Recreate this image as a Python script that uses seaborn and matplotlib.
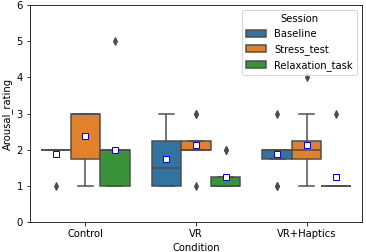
import pandas as pd
import matplotlib.pyplot as plt
import seaborn as sns

conditions = ['Control', 'VR', 'VR+Haptics']
sessions = ['Baseline', 'Stress_test', 'Relaxation_task']

# arousal ratings per condition / session (8 participants each)
control_baseline = [1, 2, 2, 2, 2, 2, 2, 2]
control_stress = [1, 1, 2, 3, 3, 3, 3, 3]
control_relax = [1, 1, 1, 2, 2, 2, 2, 5]
vr_baseline = [1, 1, 1, 1, 2, 2, 3, 3]
vr_stress = [1, 2, 2, 2, 2, 2, 3, 3]
vr_relax = [1, 1, 1, 1, 1, 1, 2, 2]
vrh_baseline = [1, 1, 2, 2, 2, 2, 2, 3]
vrh_stress = [1, 1, 2, 2, 2, 2, 3, 4]
vrh_relax = [1, 1, 1, 1, 1, 1, 1, 3]

groups = {
    ('Control', 'Baseline'): control_baseline,
    ('Control', 'Stress_test'): control_stress,
    ('Control', 'Relaxation_task'): control_relax,
    ('VR', 'Baseline'): vr_baseline,
    ('VR', 'Stress_test'): vr_stress,
    ('VR', 'Relaxation_task'): vr_relax,
    ('VR+Haptics', 'Baseline'): vrh_baseline,
    ('VR+Haptics', 'Stress_test'): vrh_stress,
    ('VR+Haptics', 'Relaxation_task'): vrh_relax,
}

rows = []
for (cond, sess), vals in groups.items():
    for v in vals:
        rows.append({'Condition': cond, 'Session': sess, 'Arousal_rating': v})
df = pd.DataFrame(rows)

fig, ax = plt.subplots(figsize=(366 / 72, 252 / 72), dpi=72)
sns.boxplot(data=df, x='Condition', y='Arousal_rating', hue='Session',
            order=conditions, hue_order=sessions, ax=ax,
            linecolor='0.3', linewidth=1.5,
            showmeans=True,
            meanprops=dict(marker='s', markerfacecolor='white',
                           markeredgecolor='blue', markersize=6),
            flierprops=dict(marker='d', markerfacecolor='0.3',
                            markeredgecolor='0.3', markersize=5))
ax.set_ylim(0, 6)
ax.set_yticks(range(0, 7))
ax.legend(title='Session', loc='upper right')
plt.subplots_adjust(left=0.082, right=0.989, top=0.98, bottom=0.119)
plt.savefig('out.png')
